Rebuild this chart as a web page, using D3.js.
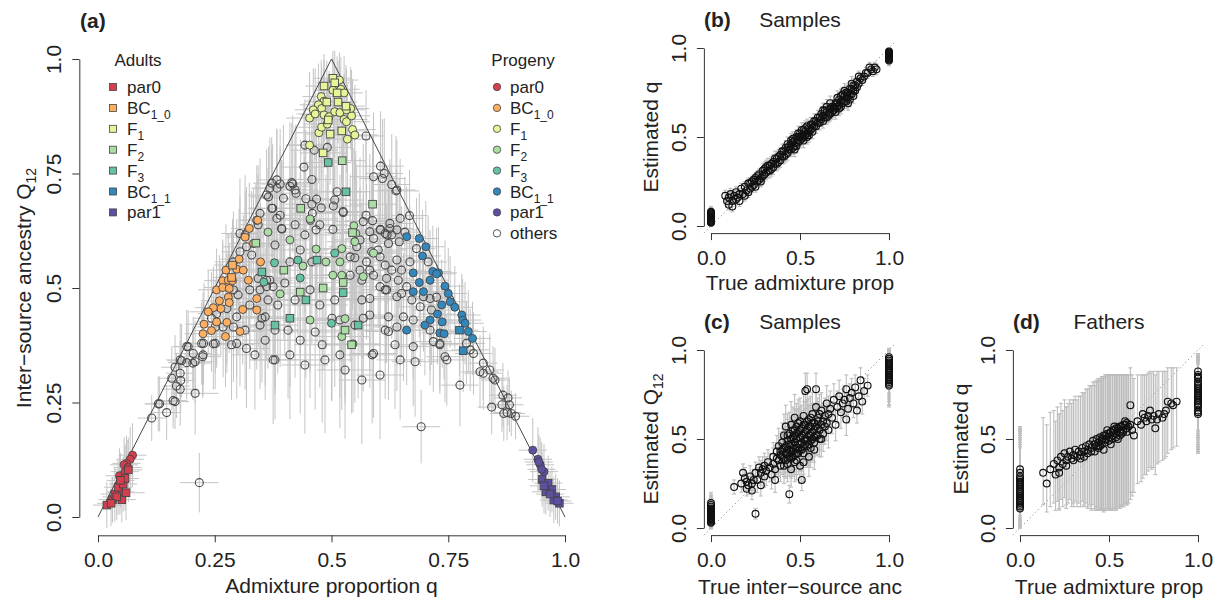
<!DOCTYPE html>
<html>
<head>
<meta charset="utf-8">
<script src="https://cdn.jsdelivr.net/npm/d3@7"></script>
<style>
  body { margin: 0; background: #fff; }
  text { font-family: "Liberation Sans", Arial, Helvetica, sans-serif; fill: #222; }
</style>
</head>
<body>
<svg id="fig" width="1222" height="600"></svg>
<script>
// ---- panel (a): [q, Q12, err q, err Q12] ----
const adultPar0 = [[.019,.026,.03,.05],[.031,.038,.03,.05],[.036,.050,.03,.06],[.051,.038,.03,.05],[.043,.065,.03,.06],[.054,.072,.03,.06],[.058,.084,.03,.07],[.065,.103,.03,.07],[.040,.044,.03,.05],[.060,.053,.04,.06],[.048,.080,.03,.06],[.028,.030,.03,.05]];
const progPar0 = [[.074,.135,.03,.07],[.069,.126,.03,.07],[.061,.117,.03,.06],[.056,.114,.03,.06],[.046,.090,.03,.06],[.058,.099,.03,.06],[.047,.055,.03,.05],[.064,.108,.03,.06]];
const adultBC10 = [[.288,.550,.04,.10],[.286,.523,.04,.10]];
const progBC10 = [[.342,.648,.04,.10],[.324,.630,.04,.10],[.315,.611,.04,.10],[.333,.597,.05,.12],[.302,.563,.04,.11],[.348,.557,.05,.13],[.274,.539,.04,.10],[.297,.541,.04,.11],[.311,.539,.05,.12],[.267,.516,.04,.09],[.279,.517,.04,.10],[.288,.516,.04,.11],[.322,.517,.05,.12],[.254,.496,.04,.09],[.267,.501,.04,.10],[.281,.499,.04,.10],[.260,.472,.04,.10],[.279,.480,.04,.10],[.263,.455,.04,.10],[.247,.457,.04,.09],[.236,.448,.04,.09],[.281,.468,.04,.11],[.340,.477,.05,.13],[.340,.452,.05,.13],[.310,.453,.05,.12],[.276,.425,.04,.11],[.254,.426,.04,.10],[.227,.421,.04,.09],[.243,.407,.04,.09],[.225,.400,.04,.09],[.304,.405,.05,.12],[.273,.394,.04,.11]];
const adultF1 = [[.503,.958,.04,.06],[.484,.941,.04,.07],[.507,.948,.04,.07],[.512,.926,.04,.08],[.490,.906,.04,.09],[.514,.906,.04,.09],[.531,.897,.04,.09],[.493,.867,.05,.10],[.497,.836,.05,.11],[.522,.843,.05,.11],[.482,.795,.05,.12]];
const progF1 = [[.517,.954,.04,.06],[.520,.934,.04,.07],[.527,.926,.04,.08],[.503,.932,.04,.07],[.478,.918,.04,.08],[.484,.908,.04,.09],[.472,.900,.04,.09],[.461,.889,.04,.09],[.453,.871,.05,.10],[.465,.880,.04,.10],[.479,.892,.04,.09],[.484,.878,.05,.10],[.495,.874,.05,.10],[.507,.885,.04,.10],[.518,.883,.04,.10],[.527,.868,.05,.10],[.532,.863,.05,.11],[.543,.876,.04,.10],[.541,.892,.04,.09],[.532,.889,.04,.09],[.473,.839,.05,.11],[.479,.851,.05,.11],[.491,.858,.05,.10],[.545,.846,.05,.11],[.550,.834,.05,.11],[.534,.825,.05,.12],[.453,.812,.05,.12]];
const adultF2 = [[.523,.778,.05,.13],[.588,.683,.05,.15],[.434,.674,.05,.15],[.545,.621,.06,.17],[.525,.512,.06,.18],[.529,.408,.06,.16],[.543,.376,.06,.15],[.338,.598,.05,.13],[.398,.539,.05,.15],[.433,.491,.06,.17],[.482,.500,.06,.18]];
const progF2 = [[.454,.651,.06,.17],[.548,.636,.06,.17],[.552,.619,.06,.18],[.550,.601,.06,.18],[.522,.586,.06,.19],[.518,.557,.06,.19],[.590,.576,.06,.17],[.568,.525,.06,.18],[.522,.528,.06,.19],[.529,.433,.06,.17],[.522,.394,.06,.16],[.364,.622,.05,.14],[.411,.605,.05,.16],[.467,.585,.06,.18],[.488,.557,.06,.19],[.439,.548,.06,.17],[.503,.528,.06,.19],[.390,.487,.05,.16],[.454,.430,.06,.17],[.546,.378,.06,.15]];
const adultF3 = [[.493,.774,.05,.14],[.531,.710,.06,.16],[.379,.419,.05,.14],[.557,.419,.06,.16],[.525,.490,.06,.18],[.351,.535,.05,.14],[.411,.434,.05,.15],[.445,.474,.06,.17],[.469,.561,.06,.18]];
const progF3 = [[.378,.555,.05,.15],[.507,.576,.06,.19],[.500,.423,.06,.17],[.355,.513,.05,.15],[.433,.522,.06,.17],[.428,.561,.06,.17]];
const adultBC11 = [[.774,.408,.04,.10],[.782,.363,.04,.09]];
const progBC11 = [[.661,.612,.04,.11],[.688,.608,.04,.10],[.702,.590,.04,.10],[.695,.570,.04,.10],[.675,.533,.05,.12],[.717,.536,.04,.10],[.729,.533,.04,.10],[.711,.517,.04,.11],[.688,.512,.05,.12],[.743,.504,.04,.10],[.675,.492,.05,.12],[.697,.492,.05,.12],[.750,.488,.04,.10],[.736,.463,.04,.10],[.754,.470,.04,.10],[.764,.458,.04,.09],[.727,.443,.04,.11],[.779,.441,.04,.09],[.711,.430,.05,.11],[.700,.419,.05,.11],[.737,.426,.04,.10],[.781,.430,.04,.09],[.786,.423,.04,.09],[.793,.405,.04,.09],[.732,.402,.04,.10],[.741,.400,.04,.10],[.802,.390,.04,.08],[.661,.408,.05,.12],[.725,.531,.04,.10]];
const adultPar1 = [[.951,.082,.03,.06],[.964,.074,.03,.06],[.972,.060,.03,.05],[.980,.044,.03,.05],[.988,.030,.03,.05],[.959,.055,.03,.05],[.976,.037,.03,.05],[.968,.050,.03,.05],[.955,.068,.03,.06],[.984,.035,.03,.05]];
const progPar1 = [[.931,.146,.03,.07],[.942,.126,.03,.07],[.947,.114,.03,.06],[.955,.099,.03,.06],[.944,.120,.03,.06],[.950,.104,.03,.06]];
const others = [
  [.443,.812,.04,.10],[.463,.801,.05,.12],[.491,.807,.05,.12],[.574,.832,.04,.10],[.441,.764,.05,.14],[.458,.737,.05,.15],[.605,.766,.05,.12],[.590,.743,.05,.14],[.613,.750,.04,.12],[.609,.739,.05,.13],[.629,.726,.04,.11],[.638,.712,.05,.12],[.417,.727,.05,.15],[.390,.727,.04,.12],[.383,.718,.05,.13],[.361,.703,.04,.10],[.397,.696,.06,.16],[.374,.674,.05,.14],[.512,.710,.06,.18],[.525,.665,.06,.18],[.478,.675,.05,.17],[.458,.683,.06,.16],[.445,.695,.05,.15],[.468,.694,.06,.18],[.459,.663,.05,.16],[.504,.679,.06,.19],[.574,.659,.05,.16],[.588,.647,.06,.15],[.605,.628,.05,.16],[.625,.630,.05,.14],[.667,.658,.04,.10],[.640,.627,.05,.13],[.394,.629,.05,.15],[.467,.627,.06,.18],[.503,.628,.06,.20],[.411,.722,.05,.14],[.368,.718,.04,.11],[.424,.707,.05,.15],[.455,.648,.06,.17],[.619,.616,.05,.15],[.657,.622,.04,.12],
  [.372,.729,.04,.10],[.347,.663,.04,.12],[.365,.699,.04,.11],[.372,.674,.05,.13],[.383,.652,.05,.14],[.304,.619,.04,.12],[.318,.590,.05,.13],[.304,.579,.04,.12],[.290,.557,.04,.11],[.329,.572,.05,.14],[.343,.521,.05,.15],[.361,.503,.05,.16],[.375,.503,.06,.16],[.347,.496,.05,.15],[.361,.517,.05,.15],[.290,.496,.04,.12],[.300,.485,.05,.13],[.276,.455,.04,.12],[.254,.444,.04,.11],[.243,.434,.04,.10],[.325,.463,.05,.14],[.347,.419,.05,.14],[.358,.437,.05,.15],[.297,.437,.04,.13],[.290,.415,.05,.12],[.268,.415,.04,.11],[.251,.415,.04,.10],[.222,.379,.04,.09],[.247,.378,.04,.10],[.286,.376,.05,.12],[.225,.354,.04,.09],[.190,.372,.03,.08],[.204,.357,.04,.08],[.176,.343,.03,.08],[.165,.327,.03,.07],[.190,.337,.04,.08],[.318,.368,.05,.13],[.375,.343,.05,.14],[.208,.339,.04,.09],
  [.193,.372,.03,.08],[.226,.379,.04,.09],[.251,.379,.04,.10],[.224,.350,.04,.09],[.179,.341,.03,.08],[.203,.336,.04,.08],[.176,.314,.03,.07],[.158,.303,.03,.07],[.168,.286,.03,.07],[.176,.279,.04,.08],[.161,.254,.03,.06],[.208,.270,.05,.09],[.147,.228,.03,.06],[.129,.247,.03,.06],[.115,.216,.03,.05],[.217,.075,.041,.065],[.297,.379,.05,.12],[.177,.298,.03,.07],[.132,.247,.03,.06],[.165,.252,.03,.06],
  [.383,.736,.04,.11],[.415,.730,.05,.13],[.422,.714,.05,.14],[.393,.630,.05,.15],[.340,.648,.04,.12],
  [.640,.714,.04,.11],[.647,.652,.05,.13],[.625,.641,.05,.14],[.604,.627,.05,.15],[.615,.619,.05,.15],[.629,.616,.05,.14],[.622,.597,.05,.15],[.645,.601,.05,.14],[.582,.623,.06,.17],[.590,.608,.06,.17],[.568,.645,.06,.17],[.586,.579,.06,.17],[.604,.568,.05,.16],[.615,.550,.05,.16],[.629,.539,.05,.15],[.640,.561,.05,.15],[.650,.539,.05,.14],[.668,.557,.04,.12],[.682,.586,.04,.11],[.707,.557,.04,.10],[.575,.557,.06,.17],[.561,.539,.06,.18],[.565,.517,.06,.17],[.590,.528,.06,.16],[.618,.521,.05,.16],[.643,.517,.05,.15],[.661,.503,.05,.14],[.604,.503,.06,.16],[.582,.477,.06,.16],[.618,.496,.05,.16],[.640,.481,.05,.15],[.650,.488,.05,.14],[.672,.474,.05,.13],[.697,.481,.04,.12],[.711,.477,.04,.12],[.725,.480,.04,.11],[.690,.459,.05,.13],[.714,.452,.04,.12],[.622,.437,.05,.15],[.640,.415,.05,.14],[.654,.437,.05,.14],[.675,.430,.05,.13],[.711,.408,.04,.12],[.718,.383,.04,.11],[.732,.379,.04,.11],[.675,.372,.05,.13],[.743,.350,.04,.10],[.622,.405,.05,.15],[.679,.339,.05,.12],[.789,.379,.04,.09],[.804,.357,.04,.09],[.825,.336,.03,.08],[.839,.321,.03,.08],[.825,.314,.04,.08],[.846,.303,.03,.07],[.554,.590,.06,.18],[.540,.568,.06,.18],[.525,.667,.06,.19],[.507,.692,.06,.19],[.590,.357,.05,.14],[.568,.434,.06,.16],
  [.843,.240,.03,.06],[.865,.245,.03,.06],[.881,.245,.03,.06],[.876,.228,.03,.06],[.885,.226,.03,.05],[.894,.220,.03,.05],[.869,.226,.03,.06],[.692,.197,.041,.08],[.732,.376,.04,.10],[.797,.365,.04,.09],[.867,.266,.03,.07],[.878,.260,.03,.06],[.850,.299,.03,.07],[.775,.288,.04,.09],[.747,.343,.04,.10],[.818,.317,.04,.08],
  [.315,.616,.04,.13],[.343,.638,.04,.13],[.390,.659,.05,.15],[.422,.638,.05,.16],[.443,.616,.06,.17],[.475,.638,.06,.18],[.379,.594,.05,.15],[.433,.583,.06,.17],[.458,.557,.06,.18],[.411,.557,.05,.16],[.368,.517,.05,.16],[.400,.511,.05,.16],[.422,.474,.06,.17],[.454,.496,.06,.18],[.475,.463,.06,.18],[.507,.474,.06,.19],[.385,.463,.05,.15],[.351,.434,.05,.14],[.407,.408,.05,.15],[.465,.404,.06,.17],[.501,.434,.06,.18],[.433,.386,.06,.16],[.480,.376,.06,.17],[.358,.386,.05,.13],[.518,.354,.06,.16],[.411,.354,.05,.14],[.443,.332,.05,.15],[.486,.343,.06,.16],[.379,.343,.05,.13],[.529,.321,.06,.15],[.550,.566,.06,.18],[.561,.605,.06,.18],[.540,.528,.06,.19],[.565,.474,.06,.17],[.582,.441,.06,.16],[.615,.408,.05,.15],[.636,.376,.05,.14],[.518,.430,.06,.17],[.550,.419,.06,.17],[.587,.354,.05,.15],[.604,.310,.05,.14],[.565,.299,.05,.14],[.647,.343,.05,.13],[.336,.354,.05,.12],[.315,.408,.05,.13],[.364,.474,.05,.15],[.325,.496,.05,.14],[.582,.539,.06,.17],[.615,.496,.05,.16],[.600,.583,.06,.17],[.379,.408,.05,.14]
];

// legend entries (label base, subscript)
const groupLabels = [["par0",""],["BC","1_0"],["F","1"],["F","2"],["F","3"],["BC","1_1"],["par1",""]];
const groupColors = ["#D53E4F","#FDAE61","#E6F598","#ABDDA4","#66C2A5","#3288BD","#5E4FA2"];
const adultGroups = [adultPar0, adultBC10, adultF1, adultF2, adultF3, adultBC11, adultPar1];
const progGroups = [progPar0, progBC10, progF1, progF2, progF3, progBC11, progPar1];
const ticksA = [0, 0.25, 0.5, 0.75, 1];
const tickLabelsA = ["0.0", "0.25", "0.5", "0.75", "1.0"];
const ticksS = [0, 0.5, 1];
const tickLabelsS = ["0.0", "0.5", "1.0"];

// ---- panel (b): samples, [true q, est q, err] ----
const bMid = [[.08,.17,.03],[.09,.14,.03],[.10,.12,.03],[.10,.16,.03],[.11,.18,.03],[.12,.14,.03],[.12,.11,.03],[.13,.17,.03],[.14,.19,.03],[.15,.16,.03],[.16,.14,.03],[.17,.21,.03],[.18,.18,.03],[.19,.22,.03],[.20,.20,.03],[.21,.24,.03],[.21,.19,.03],[.22,.21,.03],[.23,.25,.03],[.23,.22,.03],[.24,.23,.03],[.25,.27,.03],[.26,.25,.03],[.26,.28,.03],[.27,.29,.03],[.28,.27,.04],[.28,.25,.03],[.29,.31,.04],[.30,.29,.04],[.31,.33,.04],[.31,.30,.04],[.32,.31,.04],[.33,.34,.04],[.33,.31,.04],[.34,.32,.04],[.35,.36,.04],[.35,.33,.04],[.36,.35,.04],[.37,.38,.04],[.38,.36,.04],[.38,.39,.04],[.39,.40,.04],[.40,.39,.04],[.41,.42,.04],[.41,.39,.04],[.42,.40,.04],[.43,.44,.04],[.43,.41,.04],[.44,.43,.04],[.44,.45,.04],[.45,.46,.04],[.46,.44,.04],[.46,.47,.04],[.47,.48,.04],[.47,.45,.04],[.48,.47,.04],[.48,.50,.04],[.49,.50,.04],[.49,.47,.04],[.50,.48,.04],[.50,.52,.04],[.51,.51,.04],[.51,.49,.04],[.52,.50,.04],[.52,.54,.04],[.53,.53,.04],[.53,.51,.04],[.54,.52,.04],[.55,.55,.04],[.55,.53,.04],[.56,.54,.04],[.57,.57,.04],[.57,.55,.04],[.58,.56,.04],[.58,.59,.04],[.59,.59,.04],[.60,.58,.04],[.60,.61,.04],[.61,.61,.04],[.62,.60,.04],[.62,.63,.04],[.63,.62,.04],[.64,.61,.04],[.64,.65,.04],[.65,.64,.04],[.66,.63,.04],[.66,.62,.04],[.67,.66,.04],[.67,.69,.04],[.68,.64,.04],[.69,.67,.04],[.69,.65,.04],[.70,.66,.04],[.71,.69,.04],[.71,.67,.04],[.72,.68,.04],[.72,.71,.04],[.73,.70,.04],[.74,.71,.04],[.74,.69,.04],[.75,.73,.04],[.75,.76,.04],[.76,.72,.04],[.76,.70,.04],[.77,.75,.04],[.77,.72,.04],[.78,.74,.04],[.78,.77,.04],[.79,.77,.04],[.79,.74,.04],[.80,.76,.04],[.80,.79,.04],[.81,.79,.03],[.82,.81,.03],[.82,.78,.03],[.83,.80,.03],[.84,.83,.03],[.86,.84,.03],[.87,.86,.03],[.88,.86,.03],[.90,.88,.03],[.92,.89,.03],[.93,.88,.03],
  [.14,.15,.03],[.16,.18,.03],[.19,.17,.03],[.22,.24,.03],[.24,.26,.03],[.25,.22,.03],[.27,.26,.03],[.29,.28,.04],[.30,.32,.04],[.32,.34,.04],[.34,.35,.04],[.36,.38,.04],[.37,.35,.04],[.39,.37,.04],[.40,.42,.04],[.42,.44,.04],[.43,.46,.04],[.45,.43,.04],[.45,.48,.04],[.46,.49,.04],[.47,.43,.04],[.48,.45,.04],[.49,.52,.04],[.50,.50,.04],[.51,.54,.04],[.52,.48,.04],[.53,.55,.04],[.54,.50,.04],[.54,.56,.04],[.55,.51,.04],[.56,.57,.04],[.57,.53,.04],[.59,.56,.04],[.61,.58,.04],[.63,.59,.04],[.63,.65,.04],[.65,.61,.04],[.65,.67,.04],[.67,.63,.04],[.68,.67,.04],[.70,.69,.04],[.70,.64,.04],[.71,.72,.04],[.72,.66,.04],[.73,.73,.04],[.73,.67,.04],[.74,.74,.04],[.75,.70,.04],[.76,.75,.04],[.77,.69,.04],[.78,.71,.04],[.79,.80,.04],[.80,.73,.04],[.81,.76,.03],[.83,.84,.03],[.85,.82,.03],[.89,.89,.03],[.91,.87,.03]];
const bAt0 = [[.02,.02],[.03,.02],[.04,.03],[.05,.03],[.06,.03],[.07,.03],[.08,.03],[.025,.02],[.035,.02],[.045,.03],[.055,.03],[.065,.03],[.075,.03],[.03,.02],[.05,.03],[.04,.02],[.06,.02],[.02,.02]];
const bAt1 = [[.93,.03],[.94,.03],[.95,.02],[.96,.02],[.97,.02],[.98,.02],[.935,.03],[.945,.02],[.955,.02],[.965,.02],[.975,.02],[.95,.03],[.96,.02],[.94,.02],[.97,.02]];

// ---- panel (c): samples, [true Q12, est Q12, err] ----
const cMid = [[.13,.23,.04],[.17,.25,.05],[.18,.31,.05],[.19,.28,.06],[.20,.26,.05],[.20,.22,.04],[.21,.24,.05],[.22,.29,.06],[.23,.25,.05],[.23,.21,.05],[.24,.27,.06],[.25,.08,.03],[.25,.31,.06],[.26,.27,.07],[.27,.34,.06],[.28,.31,.07],[.28,.24,.06],[.29,.33,.07],[.30,.35,.07],[.30,.29,.06],[.31,.32,.08],[.32,.37,.07],[.33,.34,.08],[.34,.30,.08],[.35,.36,.09],[.35,.40,.08],[.36,.27,.07],[.36,.33,.08],[.37,.43,.09],[.38,.38,.09],[.38,.46,.10],[.39,.41,.10],[.39,.35,.09],[.40,.44,.10],[.40,.48,.11],[.41,.39,.10],[.41,.52,.12],[.42,.42,.11],[.42,.46,.11],[.42,.57,.12],[.43,.36,.10],[.43,.49,.12],[.43,.44,.11],[.44,.19,.05],[.44,.40,.11],[.44,.53,.12],[.44,.47,.12],[.45,.43,.11],[.45,.58,.13],[.45,.50,.12],[.45,.33,.10],[.46,.45,.12],[.46,.55,.13],[.46,.40,.11],[.47,.48,.12],[.47,.62,.13],[.47,.52,.12],[.47,.37,.11],[.48,.45,.12],[.48,.57,.13],[.48,.50,.12],[.49,.42,.12],[.49,.54,.13],[.49,.47,.12],[.50,.60,.13],[.50,.51,.12],[.50,.44,.12],[.50,.35,.10],[.51,.27,.06],[.51,.56,.13],[.51,.48,.12],[.52,.53,.13],[.52,.63,.12],[.52,.42,.12],[.53,.50,.12],[.53,.58,.13],[.53,.77,.10],[.54,.46,.12],[.54,.55,.13],[.55,.61,.12],[.55,.52,.12],[.55,.40,.11],[.56,.57,.12],[.56,.49,.12],[.57,.64,.12],[.57,.54,.12],[.58,.59,.11],[.58,.44,.11],[.59,.52,.11],[.59,.68,.11],[.60,.56,.11],[.60,.62,.11],[.61,.50,.10],[.62,.66,.10],[.62,.58,.11],[.63,.53,.10],[.64,.63,.10],[.65,.70,.10],[.66,.55,.10],[.67,.67,.10],[.68,.62,.09],[.69,.72,.09],[.70,.58,.09],[.71,.68,.09],[.72,.74,.09],[.73,.65,.09],[.74,.70,.08],[.75,.72,.08],[.76,.61,.09],[.76,.78,.08],[.77,.67,.08],[.78,.73,.08],[.79,.76,.08],[.80,.70,.08],[.81,.79,.07],[.82,.66,.07],[.83,.74,.07],[.84,.83,.07],[.85,.71,.07],[.86,.77,.07],[.88,.80,.06],[.54,.78,.09],[.59,.78,.09],[.60,.60,.11],[.62,.50,.10],[.58,.51,.11],
  [.40,.40,.10],[.41,.45,.11],[.42,.38,.10],[.43,.52,.12],[.44,.44,.11],[.45,.47,.12],[.45,.39,.11],[.46,.51,.12],[.46,.43,.11],[.47,.55,.12],[.47,.41,.11],[.48,.53,.13],[.48,.42,.12],[.49,.45,.12],[.49,.59,.13],[.50,.47,.12],[.50,.55,.13],[.51,.52,.13],[.51,.44,.12],[.52,.46,.12],[.52,.58,.13],[.53,.47,.12],[.53,.54,.13],[.54,.60,.12],[.54,.49,.12],[.55,.57,.12],[.55,.47,.12],[.56,.53,.12],[.56,.62,.12],[.57,.50,.12],[.57,.59,.11],[.58,.55,.11],[.59,.57,.11],[.60,.52,.11],[.61,.64,.11],[.63,.60,.10],[.64,.57,.10],[.66,.64,.10],[.43,.39,.10],[.39,.43,.10],[.37,.39,.09],[.41,.35,.10],[.48,.38,.11],[.52,.37,.11],[.56,.45,.11],[.58,.48,.11],[.61,.55,.11],[.65,.59,.10]];
const cAt0 = [[.03,.03],[.04,.04],[.05,.05],[.06,.05],[.07,.06],[.08,.06],[.09,.07],[.10,.07],[.11,.07],[.12,.06],[.13,.06],[.14,.06],[.035,.04],[.045,.04],[.055,.05],[.065,.05],[.075,.06],[.085,.06],[.095,.07],[.105,.06],[.05,.04],[.07,.05],[.09,.06]];
const cAt1 = [[.80,.12],[.81,.12],[.82,.13],[.83,.14],[.84,.13],[.85,.12],[.86,.12],[.87,.11],[.88,.10],[.89,.10],[.90,.09],[.91,.08],[.92,.07],[.93,.06],[.94,.05],[.95,.05],[.96,.04],[.83,.12],[.86,.14],[.89,.11],[.92,.08],[.95,.05],[.88,.13],[.91,.09]];

// ---- panel (d): fathers, [true q, est q, lower, upper] ----
const dMid = [[.13,.31,.13,.62],[.15,.25,.09,.58],[.17,.33,.12,.65],[.19,.36,.14,.66],[.20,.30,.10,.60],[.21,.38,.15,.68],[.22,.34,.11,.64],[.23,.40,.16,.70],[.24,.36,.12,.66],[.25,.42,.17,.72],[.26,.38,.13,.68],[.27,.40,.14,.70],[.28,.43,.16,.72],[.29,.39,.12,.70],[.30,.41,.14,.72],[.31,.44,.15,.74],[.32,.40,.12,.72],[.33,.43,.14,.74],[.34,.41,.12,.74],[.35,.45,.15,.76],[.36,.43,.13,.76],[.37,.46,.14,.78],[.38,.44,.12,.78],[.39,.47,.13,.80],[.40,.45,.11,.80],[.41,.49,.13,.82],[.42,.47,.11,.82],[.43,.50,.12,.83],[.44,.48,.10,.84],[.45,.51,.11,.84],[.46,.49,.10,.85],[.47,.52,.11,.85],[.48,.50,.10,.86],[.49,.53,.11,.86],[.50,.51,.10,.86],[.51,.54,.11,.86],[.52,.52,.10,.86],[.53,.55,.11,.86],[.54,.53,.10,.86],[.55,.56,.12,.86],[.56,.54,.11,.86],[.57,.57,.13,.86],[.58,.55,.12,.86],[.59,.58,.14,.86],[.60,.56,.13,.86],[.62,.69,.20,.90],[.64,.52,.20,.84],[.66,.60,.25,.86],[.68,.58,.26,.86],[.70,.62,.30,.86],[.71,.60,.30,.86],[.73,.66,.34,.88],[.75,.63,.34,.88],[.76,.56,.30,.86],[.78,.64,.37,.88],[.80,.62,.38,.88],[.82,.66,.40,.88],[.83,.71,.42,.90],[.85,.70,.44,.90],[.88,.71,.46,.90],[.42,.43,.10,.80],[.44,.45,.10,.82],[.46,.47,.10,.84],[.48,.48,.10,.85],[.50,.49,.10,.86],[.52,.50,.10,.86],[.54,.51,.10,.86],[.56,.52,.11,.86],[.58,.54,.12,.86],[.60,.54,.13,.86],[.45,.46,.10,.83],[.47,.44,.09,.84],[.51,.47,.10,.86],[.53,.57,.11,.86],[.55,.50,.11,.86],[.57,.53,.12,.86],[.59,.60,.14,.86],[.43,.46,.10,.82],[.49,.55,.11,.86],[.61,.57,.14,.86],[.63,.55,.18,.86],
  [.44,.46,.10,.83],[.46,.50,.10,.85],[.48,.52,.10,.86],[.50,.53,.11,.86],[.52,.55,.11,.86],[.54,.56,.11,.86],[.56,.57,.12,.86],[.58,.58,.13,.86],[.40,.43,.10,.80],[.38,.42,.11,.78],[.36,.40,.12,.76],[.34,.39,.12,.74],[.30,.38,.12,.72],[.26,.35,.11,.68],[.22,.31,.10,.64],[.60,.59,.14,.86],[.62,.58,.16,.86],[.72,.63,.32,.87],[.77,.61,.36,.88],[.81,.64,.39,.88],[.86,.69,.45,.90],[.74,.61,.33,.87],[.69,.64,.28,.86]];
const dAt0 = [[.11,.00,.45],[.13,.01,.47],[.15,.01,.49],[.17,.02,.50],[.19,.02,.52],[.21,.03,.53],[.23,.03,.54],[.25,.04,.55],[.27,.05,.56],[.29,.05,.57],[.31,.06,.57],[.33,.07,.57],[.12,.00,.46],[.16,.01,.50],[.20,.02,.53],[.24,.03,.55],[.28,.04,.56],[.18,.02,.51],[.22,.03,.54],[.26,.04,.55],[.14,.01,.48]];
const dAt1 = [[.64,.42,.92],[.66,.43,.93],[.68,.44,.93],[.70,.45,.94],[.72,.46,.94],[.74,.47,.95],[.76,.48,.95],[.78,.50,.96],[.80,.51,.96],[.82,.52,.97],[.84,.53,.97],[.86,.54,.98],[.88,.55,.98],[.65,.42,.92],[.69,.44,.93],[.73,.46,.94],[.77,.49,.95],[.81,.51,.96],[.85,.53,.97],[.71,.45,.94],[.75,.47,.95],[.79,.50,.96]];

const svg = d3.select("#fig");
const FS = 21;

function rAxes(x, y, ticks, labels) {
  const gx = svg.append("g")
    .attr("transform", `translate(0,${y(-0.04)})`)
    .call(d3.axisBottom(x).tickValues(ticks).tickFormat((d, i) => labels[i]).tickSize(7).tickSizeOuter(0));
  gx.selectAll("text").attr("y", 32).attr("dy", null);
  const gy = svg.append("g")
    .attr("transform", `translate(${x(-0.04)},0)`)
    .call(d3.axisLeft(y).tickValues(ticks).tickFormat((d, i) => labels[i]).tickSize(7).tickSizeOuter(0));
  gy.selectAll("text").attr("x", null).attr("dy", null)
    .attr("text-anchor", "middle").attr("transform", "translate(-18,0) rotate(-90)");
  for (const g of [gx, gy]) {
    g.attr("font-family", null).attr("font-size", FS);
    g.selectAll("path, line").attr("stroke", "#333");
    g.selectAll("text").attr("fill", "#222");
  }
}

function label(x, y, str, opts = {}) {
  const t = svg.append("text").attr("x", x).attr("y", y)
    .attr("font-size", opts.size || FS)
    .attr("text-anchor", opts.anchor || "start")
    .attr("font-weight", opts.bold ? "bold" : null)
    .text(str);
  if (opts.rotate) t.attr("transform", `rotate(-90,${x},${y})`);
  if (opts.sub) t.append("tspan").attr("font-size", opts.subSize || 14).attr("dy", opts.subDy || 5).text(opts.sub);
  return t;
}

// ================= panel (a) =================
const xA = d3.scaleLinear([0, 1], [98, 565]);
const yA = d3.scaleLinear([0, 1], [517, 59]);
const allA = [...others, ...adultGroups.flat(), ...progGroups.flat()];

const gErr = svg.append("g").attr("stroke", "#c4c4c4").attr("stroke-width", 1);
gErr.selectAll("line.h").data(allA).join("line")
  .attr("x1", d => xA(d[0] - d[2])).attr("x2", d => xA(d[0] + d[2]))
  .attr("y1", d => yA(d[1])).attr("y2", d => yA(d[1]));
gErr.selectAll("line.v").data(allA).join("line").attr("class", "v")
  .attr("x1", d => xA(d[0])).attr("x2", d => xA(d[0]))
  .attr("y1", d => yA(Math.max(-0.04, d[1] - d[3]))).attr("y2", d => yA(Math.min(1.04, d[1] + d[3])));

svg.append("path")
  .attr("d", d3.line().x(d => xA(d[0])).y(d => yA(d[1]))([[0, 0], [0.5, 1], [1, 0]]))
  .attr("fill", "none").attr("stroke", "#333").attr("stroke-width", 0.9);

svg.append("g").selectAll("circle").data(others).join("circle")
  .attr("cx", d => xA(d[0])).attr("cy", d => yA(d[1])).attr("r", 4)
  .attr("fill", "none").attr("stroke", "#4a4a4a").attr("stroke-width", 1.1);

progGroups.forEach((grp, i) => {
  svg.append("g").selectAll("circle").data(grp).join("circle")
    .attr("cx", d => xA(d[0])).attr("cy", d => yA(d[1])).attr("r", 4)
    .attr("fill", groupColors[i]).attr("stroke", "#444").attr("stroke-width", 0.9);
});
adultGroups.forEach((grp, i) => {
  svg.append("g").selectAll("rect").data(grp).join("rect")
    .attr("x", d => xA(d[0]) - 3.8).attr("y", d => yA(d[1]) - 3.8)
    .attr("width", 7.6).attr("height", 7.6)
    .attr("fill", groupColors[i]).attr("stroke", "#444").attr("stroke-width", 0.9);
});

rAxes(xA, yA, ticksA, tickLabelsA);
label(80, 28, "(a)", { bold: true });
label(331.5, 593, "Admixture proportion q", { anchor: "middle" });
label(31, 288, "Inter\u2212source ancestry Q", { anchor: "middle", rotate: true, sub: "12" });

// legends
const rowY = i => 87 + i * 20.9;
label(138, 66, "Adults", { anchor: "middle", size: 17 });
label(523, 66, "Progeny", { anchor: "middle", size: 17 });
groupLabels.forEach((lab, i) => {
  svg.append("rect").attr("x", 113 - 3.5).attr("y", rowY(i) - 3.5).attr("width", 7).attr("height", 7)
    .attr("fill", groupColors[i]).attr("stroke", "#444").attr("stroke-width", 0.8);
  label(127, rowY(i) + 6, lab[0], { size: 17, sub: lab[1], subSize: 12, subDy: 5 });
  svg.append("circle").attr("cx", 497).attr("cy", rowY(i)).attr("r", 3.7)
    .attr("fill", groupColors[i]).attr("stroke", "#444").attr("stroke-width", 0.8);
  label(510, rowY(i) + 6, lab[0], { size: 17, sub: lab[1], subSize: 12, subDy: 5 });
});
svg.append("circle").attr("cx", 497).attr("cy", rowY(7)).attr("r", 3.7)
  .attr("fill", "none").attr("stroke", "#444").attr("stroke-width", 0.9);
label(510, rowY(7) + 6, "others", { size: 17 });

// ================= panels (b)-(d) =================
function scatterPanel(x, y, pts) {
  svg.append("path")
    .attr("d", d3.line()([[x(-0.04), y(-0.04)], [x(1.04), y(1.04)]]))
    .attr("stroke", "#777").attr("stroke-width", 1).attr("stroke-dasharray", "1,3").attr("fill", "none");
  const ge = svg.append("g").attr("stroke", "#bdbdbd").attr("stroke-width", 1.1);
  const bars = ge.selectAll("g").data(pts).join("g");
  bars.append("line").attr("x1", d => x(d.x)).attr("x2", d => x(d.x)).attr("y1", d => y(d.lo)).attr("y2", d => y(d.hi));
  bars.append("line").attr("x1", d => x(d.x) - 2).attr("x2", d => x(d.x) + 2).attr("y1", d => y(d.lo)).attr("y2", d => y(d.lo));
  bars.append("line").attr("x1", d => x(d.x) - 2).attr("x2", d => x(d.x) + 2).attr("y1", d => y(d.hi)).attr("y2", d => y(d.hi));
  svg.append("g").selectAll("circle").data(pts).join("circle")
    .attr("cx", d => x(d.x)).attr("cy", d => y(d.y)).attr("r", 3.4)
    .attr("fill", "none").attr("stroke", "#111").attr("stroke-width", 1.15);
  rAxes(x, y, ticksS, tickLabelsS);
}
const sym = (arr) => arr.map(d => ({ x: d[0], y: d[1], lo: d[1] - d[2], hi: d[1] + d[2] }));
const col = (arr, xv) => arr.map(d => ({ x: xv, y: d[0], lo: d[0] - d[1], hi: d[0] + d[1] }));

const xB = d3.scaleLinear([0, 1], [711, 889]);
const yB = d3.scaleLinear([0, 1], [226, 48]);
scatterPanel(xB, yB, [...sym(bMid), ...col(bAt0, 0), ...col(bAt1, 1)]);
label(704, 27, "(b)", { bold: true });
label(800, 27, "Samples", { anchor: "middle" });
label(800, 290, "True admixture prop", { anchor: "middle" });
label(658, 137, "Estimated q", { anchor: "middle", rotate: true });

const xC = d3.scaleLinear([0, 1], [711, 889]);
const yC = d3.scaleLinear([0, 1], [528, 350]);
scatterPanel(xC, yC, [...sym(cMid), ...col(cAt0, 0), ...col(cAt1, 1)]);
label(704, 329, "(c)", { bold: true });
label(800, 329, "Samples", { anchor: "middle" });
label(800, 594, "True inter\u2212source anc", { anchor: "middle" });
label(658, 439, "Estimated Q", { anchor: "middle", rotate: true, sub: "12" });

const xD = d3.scaleLinear([0, 1], [1020, 1198]);
const yD = d3.scaleLinear([0, 1], [528, 350]);
scatterPanel(xD, yD, [
  ...dMid.map(d => ({ x: d[0], y: d[1], lo: d[2], hi: d[3] })),
  ...dAt0.map(d => ({ x: 0, y: d[0], lo: d[1], hi: d[2] })),
  ...dAt1.map(d => ({ x: 1, y: d[0], lo: d[1], hi: d[2] }))
]);
label(1013, 329, "(d)", { bold: true });
label(1109, 329, "Fathers", { anchor: "middle" });
label(1109, 594, "True admixture prop", { anchor: "middle" });
label(968, 439, "Estimated q", { anchor: "middle", rotate: true });
</script>
</body>
</html>
